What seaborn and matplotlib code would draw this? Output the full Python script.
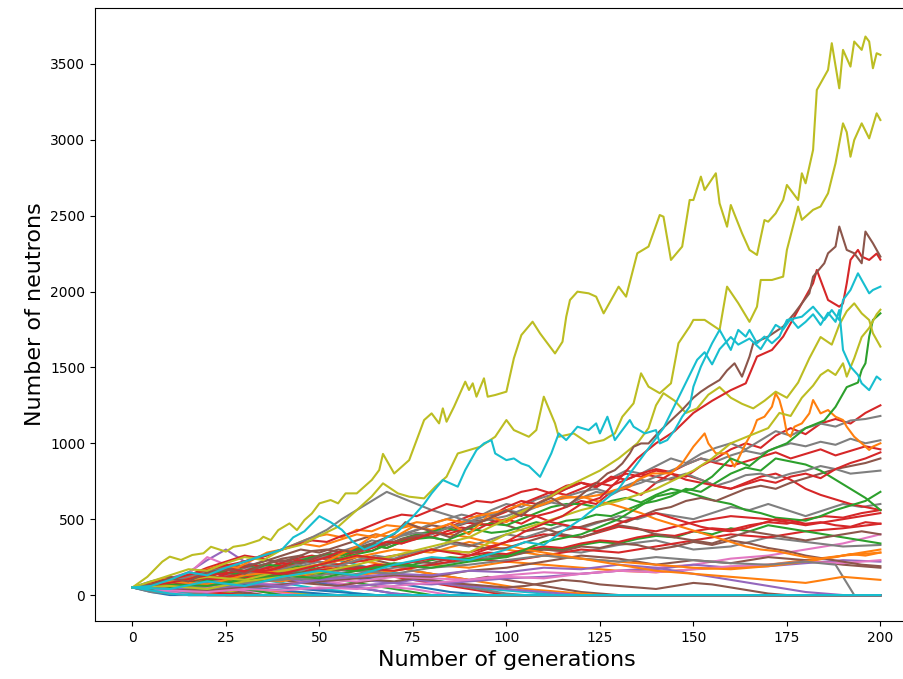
import matplotlib
matplotlib.use("Agg")
import matplotlib.pyplot as plt
import seaborn as sns
import pandas as pd

# ---------------- data ----------------
# Big trajectories: (generation, neutrons) knots
olive_a_gen = [0,4,8,10,13,16,19,21,25,27,30,34,35,37,39,42,44,46,48,50,53,55,57,60,62,64,66,67,70,74,76,78,80,82,83,84,86,89,90,91,92,94,95,97,100,102,104,107,109,111,113,115,116,117,119,122,124,126,130,132,135,138,141,142,144,147,149,150,152,153,156,157,159,160,163,165,167,169,170,172,174,175,178,179,180,182,183,186,187,189,190,192,193,195,196,197,198,199,200]
olive_a_val = [50,120,220,253,231,264,275,318,286,318,330,362,384,362,428,472,428,494,538,604,626,604,670,670,714,758,824,930,801,889,1021,1153,1197,1131,1230,1142,1241,1406,1351,1395,1307,1428,1307,1318,1340,1560,1713,1801,1724,1658,1592,1669,1834,1944,1999,1988,1966,1856,2032,1966,2252,2296,2504,2493,2208,2296,2603,2603,2757,2669,2779,2581,2427,2570,2384,2274,2241,2471,2460,2515,2603,2702,2603,2779,2713,2933,3328,3460,3636,3339,3592,3482,3647,3592,3680,3647,3471,3570,3559]

olive_b_gen = [0,5,10,15,20,25,30,35,40,45,50,55,60,64,67,71,74,78,81,84,87,90,93,97,100,102,106,108,110,113,114,118,122,126,129,131,134,136,138,141,144,146,149,150,153,157,159,162,165,167,168,171,174,175,178,179,182,184,186,188,190,191,192,193,195,197,199,200]
olive_b_val = [50,90,130,170,160,210,250,230,300,330,390,450,560,650,736,670,648,637,714,780,933,955,977,1043,1153,1087,1043,1087,1307,1131,1043,1065,999,1021,1065,1175,1263,1461,1373,1330,1395,1659,1769,1813,1813,1747,2032,1923,1800,1900,2076,2076,2098,2274,2560,2472,2538,2560,2647,2845,3108,3050,2888,2998,3108,3009,3174,3130]

olive_c_gen = [0,10,20,30,40,50,60,70,80,90,100,110,120,130,140,145,150,155,160,165,170,173,176,179,182,184,186,188,190,191,193,195,197,199,200]
olive_c_val = [50,80,120,100,160,200,260,230,300,280,400,480,560,620,700,760,820,900,1000,1050,1100,1200,1180,1300,1380,1450,1483,1450,1527,1439,1560,1700,1760,1850,1880]

olive_d_gen = [0,10,20,30,40,50,60,70,80,90,100,105,110,115,120,125,130,135,138,140,142,145,148,151,154,157,160,163,166,169,172,175,178,181,184,187,189,191,193,195,197,198,200]
olive_d_val = [50,60,40,90,120,150,200,260,320,380,500,560,620,700,760,820,900,1000,1100,1250,1330,1280,1200,1230,1320,1370,1300,1260,1230,1280,1340,1300,1400,1560,1700,1650,1780,1870,1922,1856,1812,1725,1637]

cyan_a_gen = [0,5,10,15,20,25,30,35,40,43,46,50,53,56,59,62,65,68,71,75,78,80,83,87,89,92,94,96,97,100,102,104,106,109,112,114,116,119,122,124,125,127,129,131,133,134,137,140,141,143,145,147,149,150,152,155,157,158,160,162,164,165,167,169,171,173,175,179,182,185,187,189,190,192,194,195,197,198,200]
cyan_a_val = [50,60,100,150,130,180,220,260,300,380,420,520,480,430,350,300,330,380,420,516,600,670,758,714,824,955,999,1021,933,889,900,867,850,779,933,1065,1021,1109,1087,1131,1065,1175,1021,1087,1153,1109,1065,1087,999,1021,1087,1175,1241,1373,1505,1659,1747,1703,1615,1747,1703,1747,1659,1703,1659,1703,1812,1834,1900,1812,1878,1812,1944,2010,2120,2076,1988,2010,2032]

cyan_b_gen = [0,10,20,30,40,50,60,70,80,90,100,105,110,115,120,125,130,133,136,139,142,145,148,151,153,155,157,160,162,165,168,170,172,174,176,178,180,182,184,186,188,189,190,192,194,195,197,199,200]
cyan_b_val = [50,40,90,60,120,160,130,200,250,230,300,350,330,420,500,600,700,800,900,1000,1100,1250,1400,1550,1600,1520,1620,1700,1650,1690,1620,1700,1780,1750,1820,1760,1800,1850,1780,1860,1800,1878,1615,1505,1450,1395,1350,1440,1420]

brown_x_gen = [0,5,10,15,20,25,30,35,40,45,50,55,60,65,70,73,76,80,85,90,95,100,104,108,112,116,120,124,127,129,131,133,134,136,138,141,144,147,150,152,154,157,159,161,163,165,166,170,174,177,181,182,185,186,188,189,191,193,195,196,198,200]
brown_x_val = [50,70,110,90,150,170,140,200,230,210,260,300,280,350,400,480,450,420,380,450,500,560,520,600,640,580,660,736,801,823,867,933,977,999,999,1080,1150,1220,1300,1340,1373,1417,1480,1527,1439,1571,1659,1703,1769,1856,1988,2098,2186,2252,2296,2428,2274,2252,2186,2395,2318,2230]

red_x_gen = [0,10,20,30,40,50,60,70,80,90,100,105,110,115,120,125,130,135,140,145,150,155,160,164,167,171,174,178,182,183,185,186,189,190,191,192,194,195,197,199,200]
red_x_val = [50,80,130,160,140,200,260,230,300,260,350,420,470,520,600,640,760,900,1000,1080,1200,1280,1350,1395,1571,1615,1703,1878,2054,2142,2010,1944,1900,1922,2054,2208,2274,2230,2208,2250,2210]

green_x_gen = [0,10,20,30,40,50,60,70,80,90,100,110,120,130,140,150,155,160,165,170,175,180,185,188,191,194,195,196,197,198,200]
green_x_val = [50,70,60,100,130,110,160,200,180,220,250,350,400,500,650,700,780,900,850,950,1000,1100,1150,1240,1370,1400,1483,1527,1703,1812,1856]

orange_x_gen = [0,10,20,30,40,50,60,65,70,75,80,85,90,95,100,105,110,115,120,125,129,133,135,139,144,147,150,153,154,156,159,161,164,166,167,169,171,172,173,174,175,176,177,179,181,182,184,186,188,190,191,193,195,197,198,200]
orange_x_val = [50,90,70,130,160,200,320,400,380,450,430,470,400,520,480,560,600,650,640,660,692,714,758,801,802,868,978,1065,999,934,934,846,999,1087,1153,1175,1241,1329,1285,1197,1065,1043,1109,1131,1197,1285,1197,1219,1175,1153,1109,1043,1000,956,978,1000]

# Mid trajectories, every 4 generations (0, 4, ..., 200)
grid4_gen = list(range(0, 201, 4))
mid_red_1 = [50,70,85,100,130,115,150,180,200,175,215,240,260,240,275,300,290,340,360,400,380,420,445,430,480,500,470,520,545,580,620,600,680,700,660,740,800,780,850,900,960,1000,970,1050,1100,1060,1130,1160,1130,1200,1250]
mid_gray_1 = [50,60,75,70,95,120,110,140,160,185,200,230,250,240,290,320,360,340,400,430,470,500,530,510,560,600,580,630,660,700,740,710,770,820,800,850,900,870,930,970,1000,960,1020,1080,1050,1100,1130,1110,1150,1160,1180]
mid_red_2 = [50,40,55,75,70,95,110,140,130,160,180,200,230,250,240,290,330,310,350,390,420,460,500,540,520,580,620,600,650,700,740,710,780,760,800,830,810,860,900,870,850,880,910,940,900,930,960,920,950,980,960]
mid_gray_2 = [50,60,50,70,85,80,100,130,150,140,170,200,220,260,290,280,310,350,390,410,400,440,470,500,530,560,540,580,610,590,640,680,660,710,740,780,820,860,900,880,920,950,930,970,1000,980,1010,990,1030,1000,1020]
mid_green_2 = [50,60,80,100,90,120,150,140,170,200,190,220,250,270,260,300,330,310,350,370,380,360,400,430,410,420,450,480,460,490,500,530,520,560,600,620,650,700,680,740,800,840,820,900,880,860,820,760,700,640,560]
mid_red_5 = [50,70,95,115,140,165,190,210,235,260,300,330,360,350,390,420,460,500,530,520,560,600,580,620,610,640,680,700,670,720,740,720,760,800,780,820,800,760,740,720,700,730,760,740,780,800,770,830,870,900,940]
mid_gray_3 = [50,70,85,100,130,150,180,200,240,270,300,340,380,430,500,560,620,680,640,600,560,530,500,480,500,520,560,590,620,650,680,700,670,720,760,740,770,800,760,720,750,790,800,770,800,820,850,830,800,810,820]
mid_red_3 = [50,65,60,85,105,100,130,160,150,180,210,200,240,270,260,290,320,350,340,380,400,440,480,470,510,550,600,640,680,660,700,740,720,760,800,780,760,790,760,720,700,740,780,800,760,700,660,630,600,580,560]
mid_green_1 = [50,40,55,50,75,95,90,115,135,130,165,190,180,215,245,270,290,330,370,400,420,440,420,460,470,460,500,540,580,600,600,580,620,640,610,660,700,680,650,620,600,560,540,510,500,490,520,560,590,620,680]
mid_orange_1 = [50,75,110,100,130,170,200,180,230,280,300,340,380,400,380,430,420,460,450,480,470,500,480,520,540,560,600,580,620,640,650,620,600,570,540,500,470,440,410,380,350,320,300,290,270,250,240,250,270,260,280]
mid_red_4 = [50,40,60,75,95,120,105,130,170,160,190,230,220,250,290,280,310,350,340,370,410,400,430,470,460,490,530,520,480,460,440,420,450,490,520,540,510,480,450,430,420,440,470,500,490,470,480,460,450,480,470]
mid_brown_1 = [50,65,90,80,110,135,160,190,200,230,220,250,290,300,280,310,340,330,370,390,380,360,340,320,300,310,340,370,400,430,450,480,500,480,520,560,580,620,640,620,660,700,720,700,740,770,800,830,850,870,900]

# Mid trajectories, every 5 generations (0, 5, ..., 200)
grid5_gen = list(range(0, 201, 5))
mid_gray_4 = [50,60,90,70,110,100,140,130,170,160,200,190,230,260,240,280,300,340,320,360,400,380,420,460,440,480,520,500,540,520,500,540,580,560,600,560,520,560,600,580,600]
mid_green_3 = [50,40,70,60,90,80,110,100,130,150,140,170,160,190,210,200,230,250,240,270,260,290,310,300,330,350,340,370,390,380,420,400,440,420,460,440,420,400,380,360,340]
mid_brown_3 = [50,70,60,90,80,110,100,130,150,140,170,160,190,180,200,220,210,240,230,260,250,280,300,290,320,310,340,330,300,320,350,330,360,340,310,290,260,240,220,200,190]
mid_red_6 = [50,60,50,80,70,100,120,110,140,130,160,180,170,200,190,220,240,230,260,280,270,300,320,310,340,360,350,380,400,390,420,440,430,460,480,470,500,520,510,540,560]
mid_brown_2 = [50,80,100,130,160,200,180,220,260,300,280,320,360,400,380,420,460,440,480,500,460,420,440,400,380,420,460,440,400,380,360,340,380,420,400,380,360,380,400,420,400]
mid_orange_2 = [50,60,80,110,140,180,220,260,300,340,320,360,400,380,430,460,420,400,380,350,330,300,280,260,240,220,200,180,160,150,140,130,120,110,100,90,80,100,120,110,100]

# Low trajectories, every 10 generations (0, 10, ..., 200)
low_gen = list(range(0, 201, 10))
low_pink_1 = [50,40,60,80,70,100,90,120,110,100,130,150,140,160,180,200,240,260,300,340,400]
low_purple_1 = [50,30,40,60,50,40,60,80,70,90,110,120,140,160,170,200,180,190,210,230,220]
low_orange_1 = [50,60,80,100,90,150,130,160,200,180,220,200,180,160,150,170,180,200,230,260,280]
low_brown_1 = [50,40,30,50,70,90,110,130,120,160,180,220,260,240,200,230,210,250,230,200,180]
low_gray_1 = [50,70,60,90,110,100,140,180,200,230,260,300,280,330,360,300,320,380,350,320,330]
low_pink_2 = [50,30,20,40,30,50,40,60,80,100,120,110,140,160,150,170,190,200,220,210,230]
low_red_1 = [50,70,90,80,120,150,180,160,200,240,220,260,300,280,320,360,400,380,420,440,470]
low_orange_2 = [50,80,100,120,150,200,250,300,280,350,300,260,240,220,200,180,170,190,220,260,300]
low_red_2 = [50,60,100,140,120,180,220,260,300,280,350,400,380,450,420,480,520,500,460,500,540]
low_purple_2 = [50,40,60,80,60,100,120,140,130,160,150,180,170,200,180,140,100,60,20,0,0]
gray_dying_gen = [0,10,20,30,40,50,60,70,80,90,100,110,120,130,140,150,160,170,180,188,193,200]
gray_dying_val = [50,60,40,80,100,130,160,140,180,200,230,260,240,220,250,230,210,200,220,200,0,0]

# Trajectories that die out, every 5 generations, then stay at 0 until generation 200
ext_gen_step = 5
ext_blue_1 = [50,20,0]
ext_orange_1 = [50,60,30,10,0]
ext_green_1 = [50,40,60,30,0]
ext_red_1 = [50,80,60,40,20,0]
ext_purple_1 = [50,30,50,70,40,20,0]
ext_brown_1 = [50,60,90,70,50,30,10,0]
ext_pink_1 = [50,30,10,0]
ext_gray_1 = [50,70,100,80,110,90,60,40,20,0]
ext_olive_1 = [50,40,20,30,10,0]
ext_cyan_1 = [50,70,60,80,100,90,120,100,80,60,40,30,10,0]
ext_blue_2 = [50,90,120,100,150,130,110,140,120,100,80,60,50,30,10,0]
ext_orange_2 = [50,30,20,0]
ext_green_2 = [50,70,100,130,160,140,180,200,170,150,120,100,80,60,40,20,0]
ext_red_2 = [50,40,20,10,0]
ext_purple_2 = [50,80,110,150,230,300,220,180,150,120,90,70,50,30,10,0]
ext_brown_2 = [50,60,40,30,50,40,20,0]
ext_pink_2 = [50,80,100,140,250,200,180,160,140,120,100,80,60,70,50,40,20,0]
ext_gray_2 = [50,20,10,0]
ext_olive_2 = [50,70,60,40,30,20,40,30,20,10,0]
ext_cyan_2 = [50,40,60,80,100,120,160,200,180,220,250,230,200,170,150,120,100,80,60,40,30,20,10,0]
ext_blue_3 = [50,60,80,70,90,110,130,120,150,170,160,140,120,100,80,60,40,20,10,0]
ext_orange_3 = [50,70,90,120,100,80,60,40,20,0]
ext_green_3 = [50,30,40,20,30,10,0]
ext_red_3 = [50,70,100,130,180,220,260,240,200,230,250,200,180,160,120,100,80,60,40,20,0]
ext_purple_3 = [50,40,30,20,10,0]
ext_brown_3 = [50,80,120,100,140,180,160,200,240,260,220,200,250,230,200,160,140,120,100,120,100,80,60,40,20,10,0]
ext_pink_3 = [50,30,40,60,50,40,30,20,10,0]
ext_gray_3 = [50,70,90,110,100,130,150,180,160,190,220,200,170,150,130,110,90,70,50,30,10,0]
ext_olive_3 = [50,40,50,30,20,10,0]
ext_cyan_3 = [50,30,20,10,0]
ext_blue_4 = [50,40,60,50,40,30,50,40,30,20,10,0]
ext_orange_4 = [50,60,80,100,130,110,150,170,200,180,160,200,230,210,190,160,140,120,100,80,60,40,30,20,10,0]
ext_green_4 = [50,60,40,50,70,60,40,20,0]
ext_red_4 = [50,30,20,30,20,10,0]
ext_purple_4 = [50,60,80,100,90,120,140,130,110,90,100,120,110,90,80,100,90,70,60,50,40,30,20,10,0]
ext_pink_4 = [50,40,20,0]
ext_gray_4 = [50,30,40,20,0]
ext_blue_5 = [50,60,50,70,60,80,70,60,50,40,30,20,10,0]
ext_brown_4 = [50,40,60,50,70,80,60,90,100,80,70,60,80,100,90,110,100,80,70,60,50,60,80,100,90,70,60,50,40,60,80,70,50,30,10,0]
ext_cyan_4 = [50,30,10,0]

# ---------------- assemble ----------------
pal = sns.color_palette("tab10")
C = dict(zip(["blue","orange","green","red","purple","brown","pink","gray","olive","cyan"], pal))

runs = []  # (name, gens, vals, colour)
def add(name, g, v, col):
    assert len(g) == len(v), name
    runs.append((name, list(g), list(v), C[col]))

def add_ext(name, v, col):
    g = [i * ext_gen_step for i in range(len(v))] + [200]
    add(name, g, list(v) + [0], col)

ext_list = [
    ("ext_blue_1", ext_blue_1, "blue"), ("ext_orange_1", ext_orange_1, "orange"),
    ("ext_green_1", ext_green_1, "green"), ("ext_red_1", ext_red_1, "red"),
    ("ext_purple_1", ext_purple_1, "purple"), ("ext_brown_1", ext_brown_1, "brown"),
    ("ext_pink_1", ext_pink_1, "pink"), ("ext_gray_1", ext_gray_1, "gray"),
    ("ext_olive_1", ext_olive_1, "olive"), ("ext_cyan_1", ext_cyan_1, "cyan"),
    ("ext_blue_2", ext_blue_2, "blue"), ("ext_orange_2", ext_orange_2, "orange"),
    ("ext_green_2", ext_green_2, "green"), ("ext_red_2", ext_red_2, "red"),
    ("ext_purple_2", ext_purple_2, "purple"), ("ext_brown_2", ext_brown_2, "brown"),
    ("ext_pink_2", ext_pink_2, "pink"), ("ext_gray_2", ext_gray_2, "gray"),
    ("ext_olive_2", ext_olive_2, "olive"), ("ext_cyan_2", ext_cyan_2, "cyan"),
    ("ext_blue_3", ext_blue_3, "blue"), ("ext_orange_3", ext_orange_3, "orange"),
    ("ext_green_3", ext_green_3, "green"), ("ext_red_3", ext_red_3, "red"),
    ("ext_purple_3", ext_purple_3, "purple"), ("ext_brown_3", ext_brown_3, "brown"),
    ("ext_pink_3", ext_pink_3, "pink"), ("ext_gray_3", ext_gray_3, "gray"),
    ("ext_olive_3", ext_olive_3, "olive"), ("ext_cyan_3", ext_cyan_3, "cyan"),
    ("ext_blue_4", ext_blue_4, "blue"), ("ext_orange_4", ext_orange_4, "orange"),
    ("ext_green_4", ext_green_4, "green"), ("ext_red_4", ext_red_4, "red"),
    ("ext_purple_4", ext_purple_4, "purple"), ("ext_pink_4", ext_pink_4, "pink"),
    ("ext_gray_4", ext_gray_4, "gray"), ("ext_blue_5", ext_blue_5, "blue"),
    ("ext_brown_4", ext_brown_4, "brown"),
]
for n, v, c in ext_list:
    add_ext(n, v, c)

for n, v, c in [("low_pink_1", low_pink_1, "pink"), ("low_purple_1", low_purple_1, "purple"),
                ("low_orange_1", low_orange_1, "orange"), ("low_brown_1", low_brown_1, "brown"),
                ("low_gray_1", low_gray_1, "gray"), ("low_pink_2", low_pink_2, "pink"),
                ("low_red_1", low_red_1, "red"), ("low_orange_2", low_orange_2, "orange"),
                ("low_red_2", low_red_2, "red"), ("low_purple_2", low_purple_2, "purple")]:
    add(n, low_gen, v, c)
add("gray_dying", gray_dying_gen, gray_dying_val, "gray")

for n, v, c in [("mid_green_3", mid_green_3, "green"), ("mid_brown_3", mid_brown_3, "brown"),
                ("mid_red_6", mid_red_6, "red"), ("mid_gray_4", mid_gray_4, "gray"),
                ("mid_brown_2", mid_brown_2, "brown"), ("mid_orange_2", mid_orange_2, "orange")]:
    add(n, grid5_gen, v, c)

for n, v, c in [("mid_red_1", mid_red_1, "red"), ("mid_gray_1", mid_gray_1, "gray"),
                ("mid_red_2", mid_red_2, "red"), ("mid_red_3", mid_red_3, "red"),
                ("mid_green_1", mid_green_1, "green"), ("mid_gray_2", mid_gray_2, "gray"),
                ("mid_brown_1", mid_brown_1, "brown"), ("mid_green_2", mid_green_2, "green"),
                ("mid_orange_1", mid_orange_1, "orange"), ("mid_red_4", mid_red_4, "red"),
                ("mid_gray_3", mid_gray_3, "gray"), ("mid_red_5", mid_red_5, "red")]:
    add(n, grid4_gen, v, c)

add("orange_x", orange_x_gen, orange_x_val, "orange")
add("green_x", green_x_gen, green_x_val, "green")
add("olive_d", olive_d_gen, olive_d_val, "olive")
add("olive_c", olive_c_gen, olive_c_val, "olive")
add("red_x", red_x_gen, red_x_val, "red")
add("brown_x", brown_x_gen, brown_x_val, "brown")
add("cyan_b", cyan_b_gen, cyan_b_val, "cyan")
add("olive_b", olive_b_gen, olive_b_val, "olive")
add("olive_a", olive_a_gen, olive_a_val, "olive")
add("cyan_a", cyan_a_gen, cyan_a_val, "cyan")
add_ext("ext_cyan_4", ext_cyan_4, "cyan")

rows = []
for n, g, v, c in runs:
    for gi, vi in zip(g, v):
        rows.append((n, gi, vi))
df = pd.DataFrame(rows, columns=["run", "gen", "neutrons"])
order = [r[0] for r in runs]
palette = {r[0]: r[3] for r in runs}

# ---------------- plot ----------------
fig = plt.figure(figsize=(9.04, 6.79), dpi=100)
ax = fig.add_axes([95 / 904, 58 / 679, 822.8 / 904, 613 / 679])
sns.lineplot(data=df, x="gen", y="neutrons", hue="run", hue_order=order,
             palette=palette, estimator=None, sort=False, legend=False,
             linewidth=1.5, ax=ax)
ax.set_xlim(-10, 210)
ax.set_ylim(-171, 3868)
ax.set_xticks([0, 25, 50, 75, 100, 125, 150, 175, 200])
ax.set_yticks([0, 500, 1000, 1500, 2000, 2500, 3000, 3500])
ax.set_xlabel("Number of generations", fontsize=16)
ax.set_ylabel("Number of neutrons", fontsize=16)
ax.tick_params(labelsize=10)
fig.savefig("out.png", dpi=100)
